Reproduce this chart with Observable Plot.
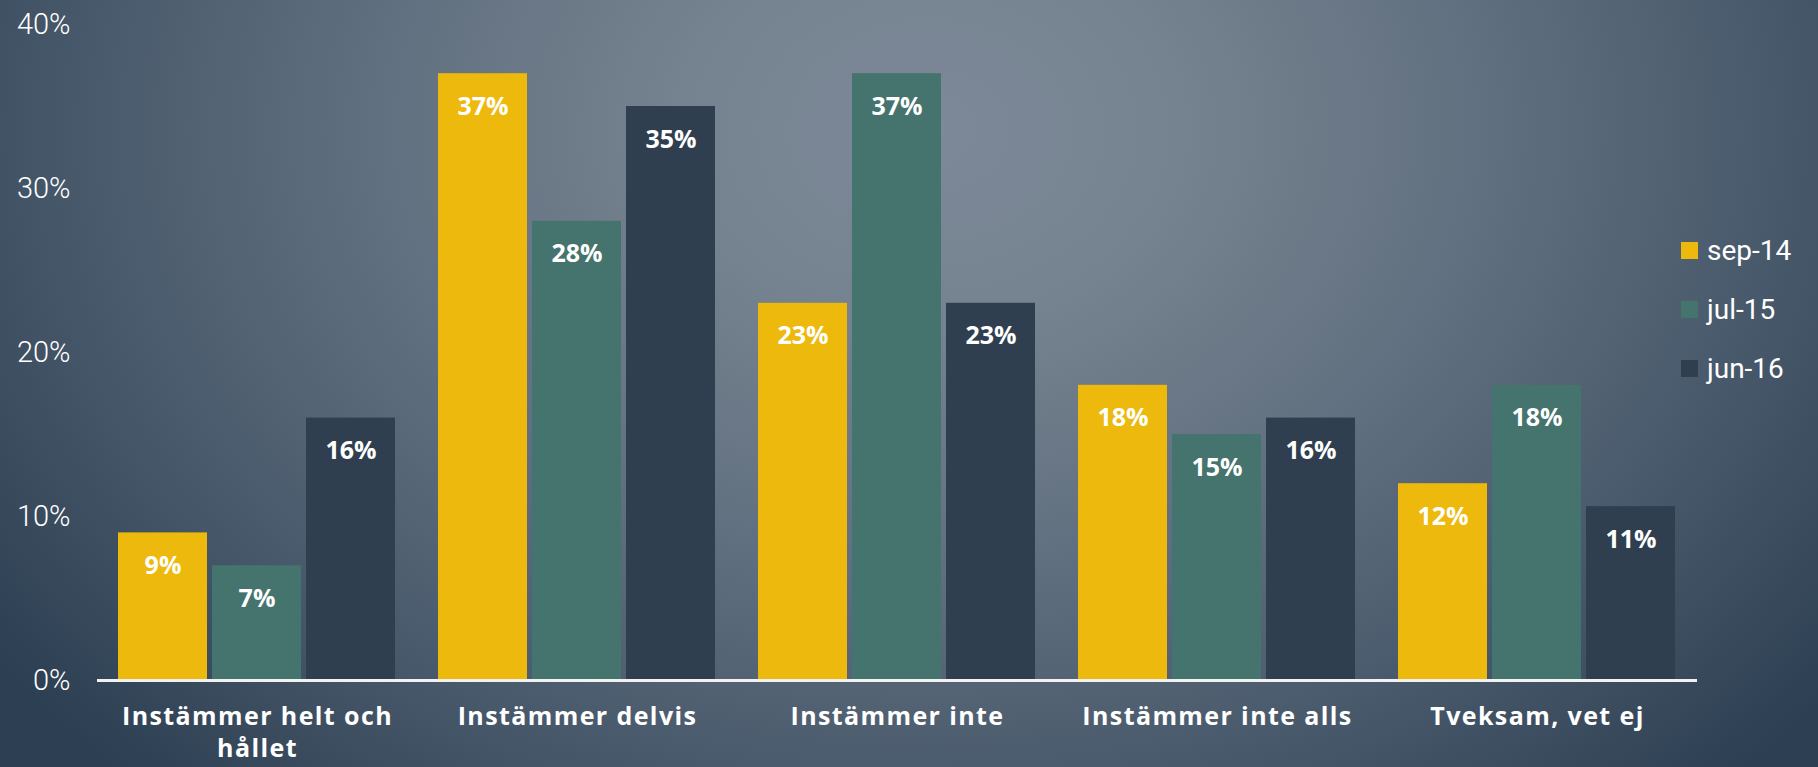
<!DOCTYPE html>
<html>
<head>
<meta charset="utf-8">
<script src="https://cdn.jsdelivr.net/npm/d3@7"></script>
<script src="https://cdn.jsdelivr.net/npm/@observablehq/plot@0.6"></script>
<style>
  html, body { margin: 0; padding: 0; }
  body {
    width: 1818px; height: 767px; overflow: hidden; position: relative;
    background: radial-gradient(ellipse 1150px 900px at 930px 130px, #7d8999 0%, #75828f 22%, #617080 48%, #47586a 75%, #2d3f52 100%);
    font-family: Roboto, "Noto Sans", sans-serif;
  }
  #chart { position: absolute; left: 0; top: 0; }
  #legend { position: absolute; left: 1681px; top: 0; color: white; font-size: 28px; }
  .lg-row { position: absolute; left: 0; display: flex; align-items: center; white-space: nowrap; }
  .lg-sw { width: 17px; height: 17px; margin-right: 9px; }
  g[aria-label="fx-axis tick label"] text { letter-spacing: 1.4px; }
</style>
</head>
<body>
<div id="chart"></div>
<div id="legend"></div>
<script>
const categories = ["Instämmer helt och hållet", "Instämmer delvis", "Instämmer inte", "Instämmer inte alls", "Tveksam, vet ej"];
const series = ["sep-14", "jul-15", "jun-16"];
const sep14 = [9, 37, 23, 18, 12];
const jul15 = [7, 28, 37, 15, 18];
const jun16 = [16, 35, 23, 16, 10.6];
const colors = ["#EDB90C", "#45736E", "#2F3F4F"];
const yTicks = [0, 10, 20, 30, 40];

const seriesValues = [sep14, jul15, jun16];
const rows = [];
categories.forEach((c, i) => {
  series.forEach((s, j) => rows.push({category: c, series: s, value: seriesValues[j][i]}));
});

const plot = Plot.plot({
  width: 1818,
  height: 767,
  marginLeft: 96,
  marginRight: 121,
  marginTop: 24,
  marginBottom: 87,
  style: {background: "transparent", fontFamily: "Roboto, 'Noto Sans', sans-serif", color: "white"},
  fx: {domain: categories, padding: 0, label: null},
  x: {domain: series, paddingInner: 0.05, paddingOuter: 0.225, axis: null},
  y: {domain: [0, 40], label: null},
  color: {domain: series, range: colors},
  marks: [
    Plot.axisY({ticks: yTicks, tickFormat: d => d + "%", tickSize: 0, tickPadding: 27, fontSize: 29, fontWeight: 300, fill: "white", label: null}),
    Plot.axisFx({anchor: "bottom", tickSize: 0, tickPadding: 21, fontSize: 25, fontWeight: 700, fontFamily: "'Open Sans', Roboto, sans-serif", fill: "white", lineWidth: 9.5, lineHeight: 1.3, label: null}),
    Plot.barY(rows, {fx: "category", x: "series", y: "value", fill: "series"}),
    Plot.text(rows, {fx: "category", x: "series", y: "value", text: d => Math.round(d.value) + "%", dy: 33, fill: "white", fontSize: 25, fontWeight: 700, fontFamily: "'Open Sans', Roboto, sans-serif"}),
    Plot.ruleY([0], {stroke: "#f2f2f2", strokeWidth: 3})
  ]
});
document.getElementById("chart").appendChild(plot);

const legend = document.getElementById("legend");
const legendTops = [250, 309, 368];
series.forEach((s, j) => {
  const row = document.createElement("div");
  row.className = "lg-row";
  row.style.top = (legendTops[j] - 20) + "px";
  row.style.height = "40px";
  const sw = document.createElement("div");
  sw.className = "lg-sw";
  sw.style.background = colors[j];
  const t = document.createElement("span");
  t.textContent = s;
  row.appendChild(sw);
  row.appendChild(t);
  legend.appendChild(row);
});
</script>
</body>
</html>
